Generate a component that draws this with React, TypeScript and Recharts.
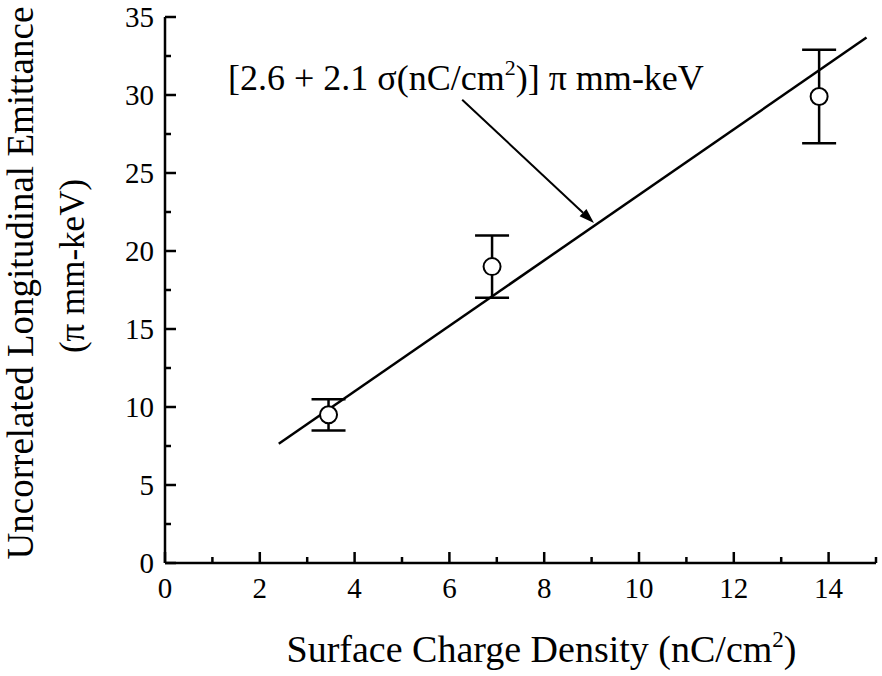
import {
  ComposedChart, Line, Scatter, ErrorBar, XAxis, YAxis, ReferenceLine, ReferenceDot, Label,
} from 'recharts'

// measured points (surface charge density vs emittance) with error
const sigma = [3.45, 6.9, 13.8]
const emittance = [9.5, 19, 29.9]
const emitErr = [1, 2, 3]

// fitted line end points
const fitX = [2.4, 14.8]
const fitY = [7.64, 33.68]

// arrow from annotation to the fit line
const arrowFrom = { x: 6.27, y: 29.7 }
const arrowTo = { x: 9.05, y: 21.8 }
const notePos = { x: 1.33, y: 30.3 }

const xTicks = [0, 1, 2, 3, 4, 5, 6, 7, 8, 9, 10, 11, 12, 13, 14, 15]
const xLabels = [0, 2, 4, 6, 8, 10, 12, 14]
const yTicks = [0, 2.5, 5, 7.5, 10, 12.5, 15, 17.5, 20, 22.5, 25, 27.5, 30, 32.5, 35]
const yLabels = [0, 5, 10, 15, 20, 25, 30, 35]

const points = sigma.map((x, i) => ({ x, y: emittance[i], err: emitErr[i] }))
const fitData = fitX.map((x, i) => ({ x, y: fitY[i] }))

const FONT = '"Liberation Serif", "Times New Roman", serif'
const INK = '#000'
const MAJOR = 11
const MINOR = 6

const tickText = { fontFamily: FONT, fontSize: 29, fill: INK }
const titleText = { fontFamily: FONT, fontSize: 37, fill: INK }
const noteText = { fontFamily: FONT, fontSize: 36, fill: INK }

function BottomTick(p: any) {
  const v = p.payload.value
  const major = xLabels.includes(v)
  return (
    <g>
      <line x1={p.x} x2={p.x} y1={p.y} y2={p.y - (major ? MAJOR : MINOR)} stroke={INK} strokeWidth={2.5} />
      {major && (
        <text x={p.x} y={p.y + 35} textAnchor="middle" style={tickText}>
          {v}
        </text>
      )}
    </g>
  )
}

function TopTick(p: any) {
  const major = xLabels.includes(p.payload.value)
  return <line x1={p.x} x2={p.x} y1={p.y} y2={p.y + (major ? MAJOR : MINOR)} stroke={INK} strokeWidth={2.5} />
}

function LeftTick(p: any) {
  const v = p.payload.value
  const major = yLabels.includes(v)
  return (
    <g>
      <line x1={p.x} x2={p.x + (major ? MAJOR : MINOR)} y1={p.y} y2={p.y} stroke={INK} strokeWidth={2.5} />
      {major && (
        <text x={p.x - 11} y={p.y + 10} textAnchor="end" style={tickText}>
          {v}
        </text>
      )}
    </g>
  )
}

function RightTick(p: any) {
  const major = yLabels.includes(p.payload.value)
  return <line x1={p.x} x2={p.x - (major ? MAJOR : MINOR)} y1={p.y} y2={p.y} stroke={INK} strokeWidth={2.5} />
}

function Arrow(p: any) {
  const { x1, y1, x2, y2 } = p
  const ang = Math.atan2(y2 - y1, x2 - x1)
  const len = 15
  const half = 5
  const bx = x2 - len * Math.cos(ang)
  const by = y2 - len * Math.sin(ang)
  const nx = -Math.sin(ang) * half
  const ny = Math.cos(ang) * half
  return (
    <g>
      <line x1={x1} y1={y1} x2={bx} y2={by} stroke={INK} strokeWidth={2} />
      <polygon points={`${x2},${y2} ${bx + nx},${by + ny} ${bx - nx},${by - ny}`} fill={INK} />
    </g>
  )
}

function Marker(p: any) {
  return <circle cx={p.cx} cy={p.cy} r={8.5} fill="#fff" stroke={INK} strokeWidth={2} />
}

export default function App() {
  return (
    <div style={{ position: 'absolute', left: 0, top: 0, width: 882, height: 676, background: '#fff' }}>
      <ComposedChart width={882} height={676} margin={{ top: 17, right: 6, left: 0, bottom: 0 }}>
        <XAxis
          xAxisId={0}
          dataKey="x"
          type="number"
          domain={[0, 15]}
          allowDataOverflow
          ticks={xTicks}
          interval={0}
          tick={BottomTick}
          tickSize={0}
          tickMargin={0}
          tickLine={false}
          axisLine={{ stroke: INK, strokeWidth: 2.5 }}
          height={113}
        >
          <Label
            content={(props: any) => {
              const vb = props.viewBox
              return (
                <text x={vb.x + vb.width / 2 + 21} y={vb.y + 99} textAnchor="middle" style={{ ...titleText, fontSize: 38 }}>
                  Surface Charge Density (nC/cm
                  <tspan dy={-15} style={{ fontSize: 23 }}>2</tspan>
                  <tspan dy={15}>)</tspan>
                </text>
              )
            }}
          />
        </XAxis>
        <XAxis
          xAxisId="top"
          orientation="top"
          dataKey="x"
          type="number"
          domain={[0, 15]}
          allowDataOverflow
          ticks={xTicks}
          interval={0}
          tick={TopTick}
          tickSize={0}
          tickMargin={0}
          tickLine={false}
          axisLine={{ stroke: INK, strokeWidth: 2.5 }}
          height={0}
        />
        <YAxis
          yAxisId={0}
          dataKey="y"
          type="number"
          domain={[0, 35]}
          allowDataOverflow
          ticks={yTicks}
          interval={0}
          tick={LeftTick}
          tickSize={0}
          tickMargin={0}
          tickLine={false}
          axisLine={{ stroke: INK, strokeWidth: 2.5 }}
          width={165}
        >
          <Label
            content={() => {
              const cy = 283
              const cy2 = 266
              return (
                <g>
                  <text x={33} y={cy} transform={`rotate(-90, 33, ${cy})`} textAnchor="middle" style={titleText}>
                    Uncorrelated Longitudinal Emittance
                  </text>
                  <text x={84} y={cy2} transform={`rotate(-90, 84, ${cy2})`} textAnchor="middle" style={{ ...titleText, fontSize: 35 }}>
                    (π mm-keV)
                  </text>
                </g>
              )
            }}
          />
        </YAxis>
        <YAxis
          yAxisId="right"
          orientation="right"
          dataKey="y"
          type="number"
          domain={[0, 35]}
          allowDataOverflow
          ticks={yTicks}
          interval={0}
          tick={RightTick}
          tickSize={0}
          tickMargin={0}
          tickLine={false}
          axisLine={{ stroke: INK, strokeWidth: 2.5 }}
          width={0}
        />
        <Line
          data={fitData}
          dataKey="y"
          type="linear"
          stroke={INK}
          strokeWidth={2.5}
          dot={false}
          activeDot={false}
          isAnimationActive={false}
        />
        <ReferenceLine segment={[arrowFrom, arrowTo]} shape={Arrow} ifOverflow="visible" />
        <ReferenceDot
          x={notePos.x}
          y={notePos.y}
          r={0}
          fill="none"
          stroke="none"
          ifOverflow="visible"
          label={(props: any) => {
            const vb = props.viewBox
            return (
              <text x={vb.x} y={vb.y} textAnchor="start" style={noteText}>
                [2.6 + 2.1 σ(nC/cm
                <tspan dy={-15} style={{ fontSize: 22 }}>2</tspan>
                <tspan dy={15}>)] π mm-keV</tspan>
              </text>
            )
          }}
        />
        <Scatter data={points} shape={Marker} isAnimationActive={false}>
          <ErrorBar dataKey="err" direction="y" width={17} stroke={INK} strokeWidth={2.5} isAnimationActive={false} />
        </Scatter>
      </ComposedChart>
    </div>
  )
}
